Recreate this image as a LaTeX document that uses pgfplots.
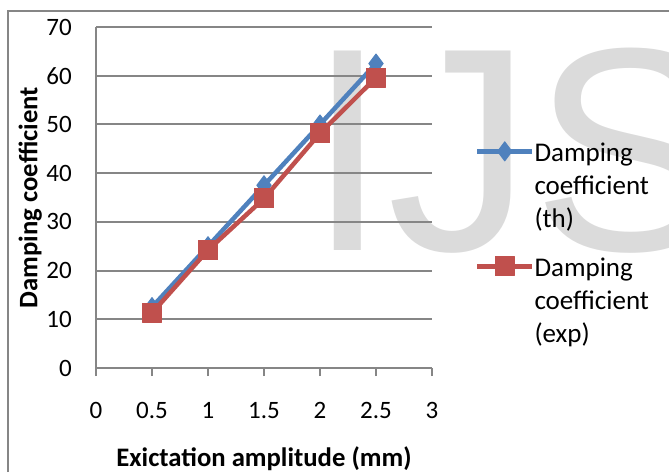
\documentclass[border=0pt]{standalone}
\usepackage{pgfplots}
\pgfplotsset{compat=1.18}
\usepackage{fontspec}
\setmainfont{Carlito}
\newfontfamily\wmfont{Liberation Sans}
\definecolor{thblue}{RGB}{79,129,189}
\definecolor{expred}{RGB}{192,80,77}
\definecolor{gridgray}{RGB}{134,134,134}
\begin{document}
\fontsize{25}{33.3}\selectfont
\begin{tikzpicture}[x=1pt,y=1pt]
\path[use as bounding box] (0,0) rectangle (669,472);
\node[anchor=base west, inner sep=0pt, text=black!14, font=\wmfont\fontsize{290}{290}\selectfont] at (307,222) {IJS};
\draw[gridgray, line width=2pt] (8,0) -- (8,461) -- (669,461);
\begin{axis}[
  at={(96pt,104pt)}, anchor=south west, scale only axis,
  width=336pt, height=341pt,
  xmin=0, xmax=3, ymin=0, ymax=70,
  xtick={0,0.5,1,1.5,2,2.5,3}, ytick={0,10,20,30,40,50,60,70},
  xticklabels={0,0.5,1,1.5,2,2.5,3},
  axis lines*=left,
  axis line style={gridgray, line width=2pt},
  ymajorgrids, grid style={gridgray, line width=2pt},
  tick align=outside, major tick length=8pt,
  xtick style={draw=gridgray, line width=2pt},
  ytick style={draw=none},
  /pgf/number format/assume math mode=true,
  tick label style={font=\fontsize{25}{30}\selectfont, inner sep=0pt},
  xticklabel style={anchor=base, yshift=-42pt},
  yticklabel style={anchor=east, xshift=-16pt},
  xlabel={\bfseries Exictation amplitude (mm)},
  ylabel={\bfseries Damping coefficient},
  xlabel style={at={(axis description cs:0.5,0)}, anchor=base, yshift=-98pt, inner sep=0pt},
  ylabel style={at={(axis description cs:-0.196,0.5)}, anchor=center, inner sep=0pt},
  label style={font=\fontsize{26.7}{30}\selectfont},
  legend style={at={(1.128,0.675)}, anchor=north west, draw=none, fill=none,
    inner sep=0pt, outer sep=0pt, row sep=88pt, column sep=0pt,
    nodes={inner sep=0pt}, font=\fontsize{27}{33.3}\selectfont},
  legend cell align=left,
  legend image code/.code={\draw[mark repeat=2, mark phase=2] plot coordinates {(0pt,0pt) (27.5pt,0pt) (55pt,0pt)};},
  clip=false,
]
\addplot[thblue, line width=4.5pt, line join=round, mark=diamond*, mark size=9.5pt,
  mark options={solid, line width=1pt, fill=thblue}]
  coordinates {(0.5,12.5) (1,25) (1.5,37.5) (2,50) (2.5,62.5)};
\addlegendentry{\begin{tabular}[t]{@{}l@{}}Damping\\coefficient\\(th)\end{tabular}}
\addplot[expred, line width=4.5pt, line join=round, mark=square*, mark size=9.5pt,
  mark options={solid, line width=1pt, fill=expred}]
  coordinates {(0.5,11.3) (1,24.2) (1.5,34.8) (2,48.2) (2.5,59.6)};
\addlegendentry{\begin{tabular}[t]{@{}l@{}}Damping\\coefficient\\(exp)\end{tabular}}
\end{axis}
\end{tikzpicture}
\end{document}
